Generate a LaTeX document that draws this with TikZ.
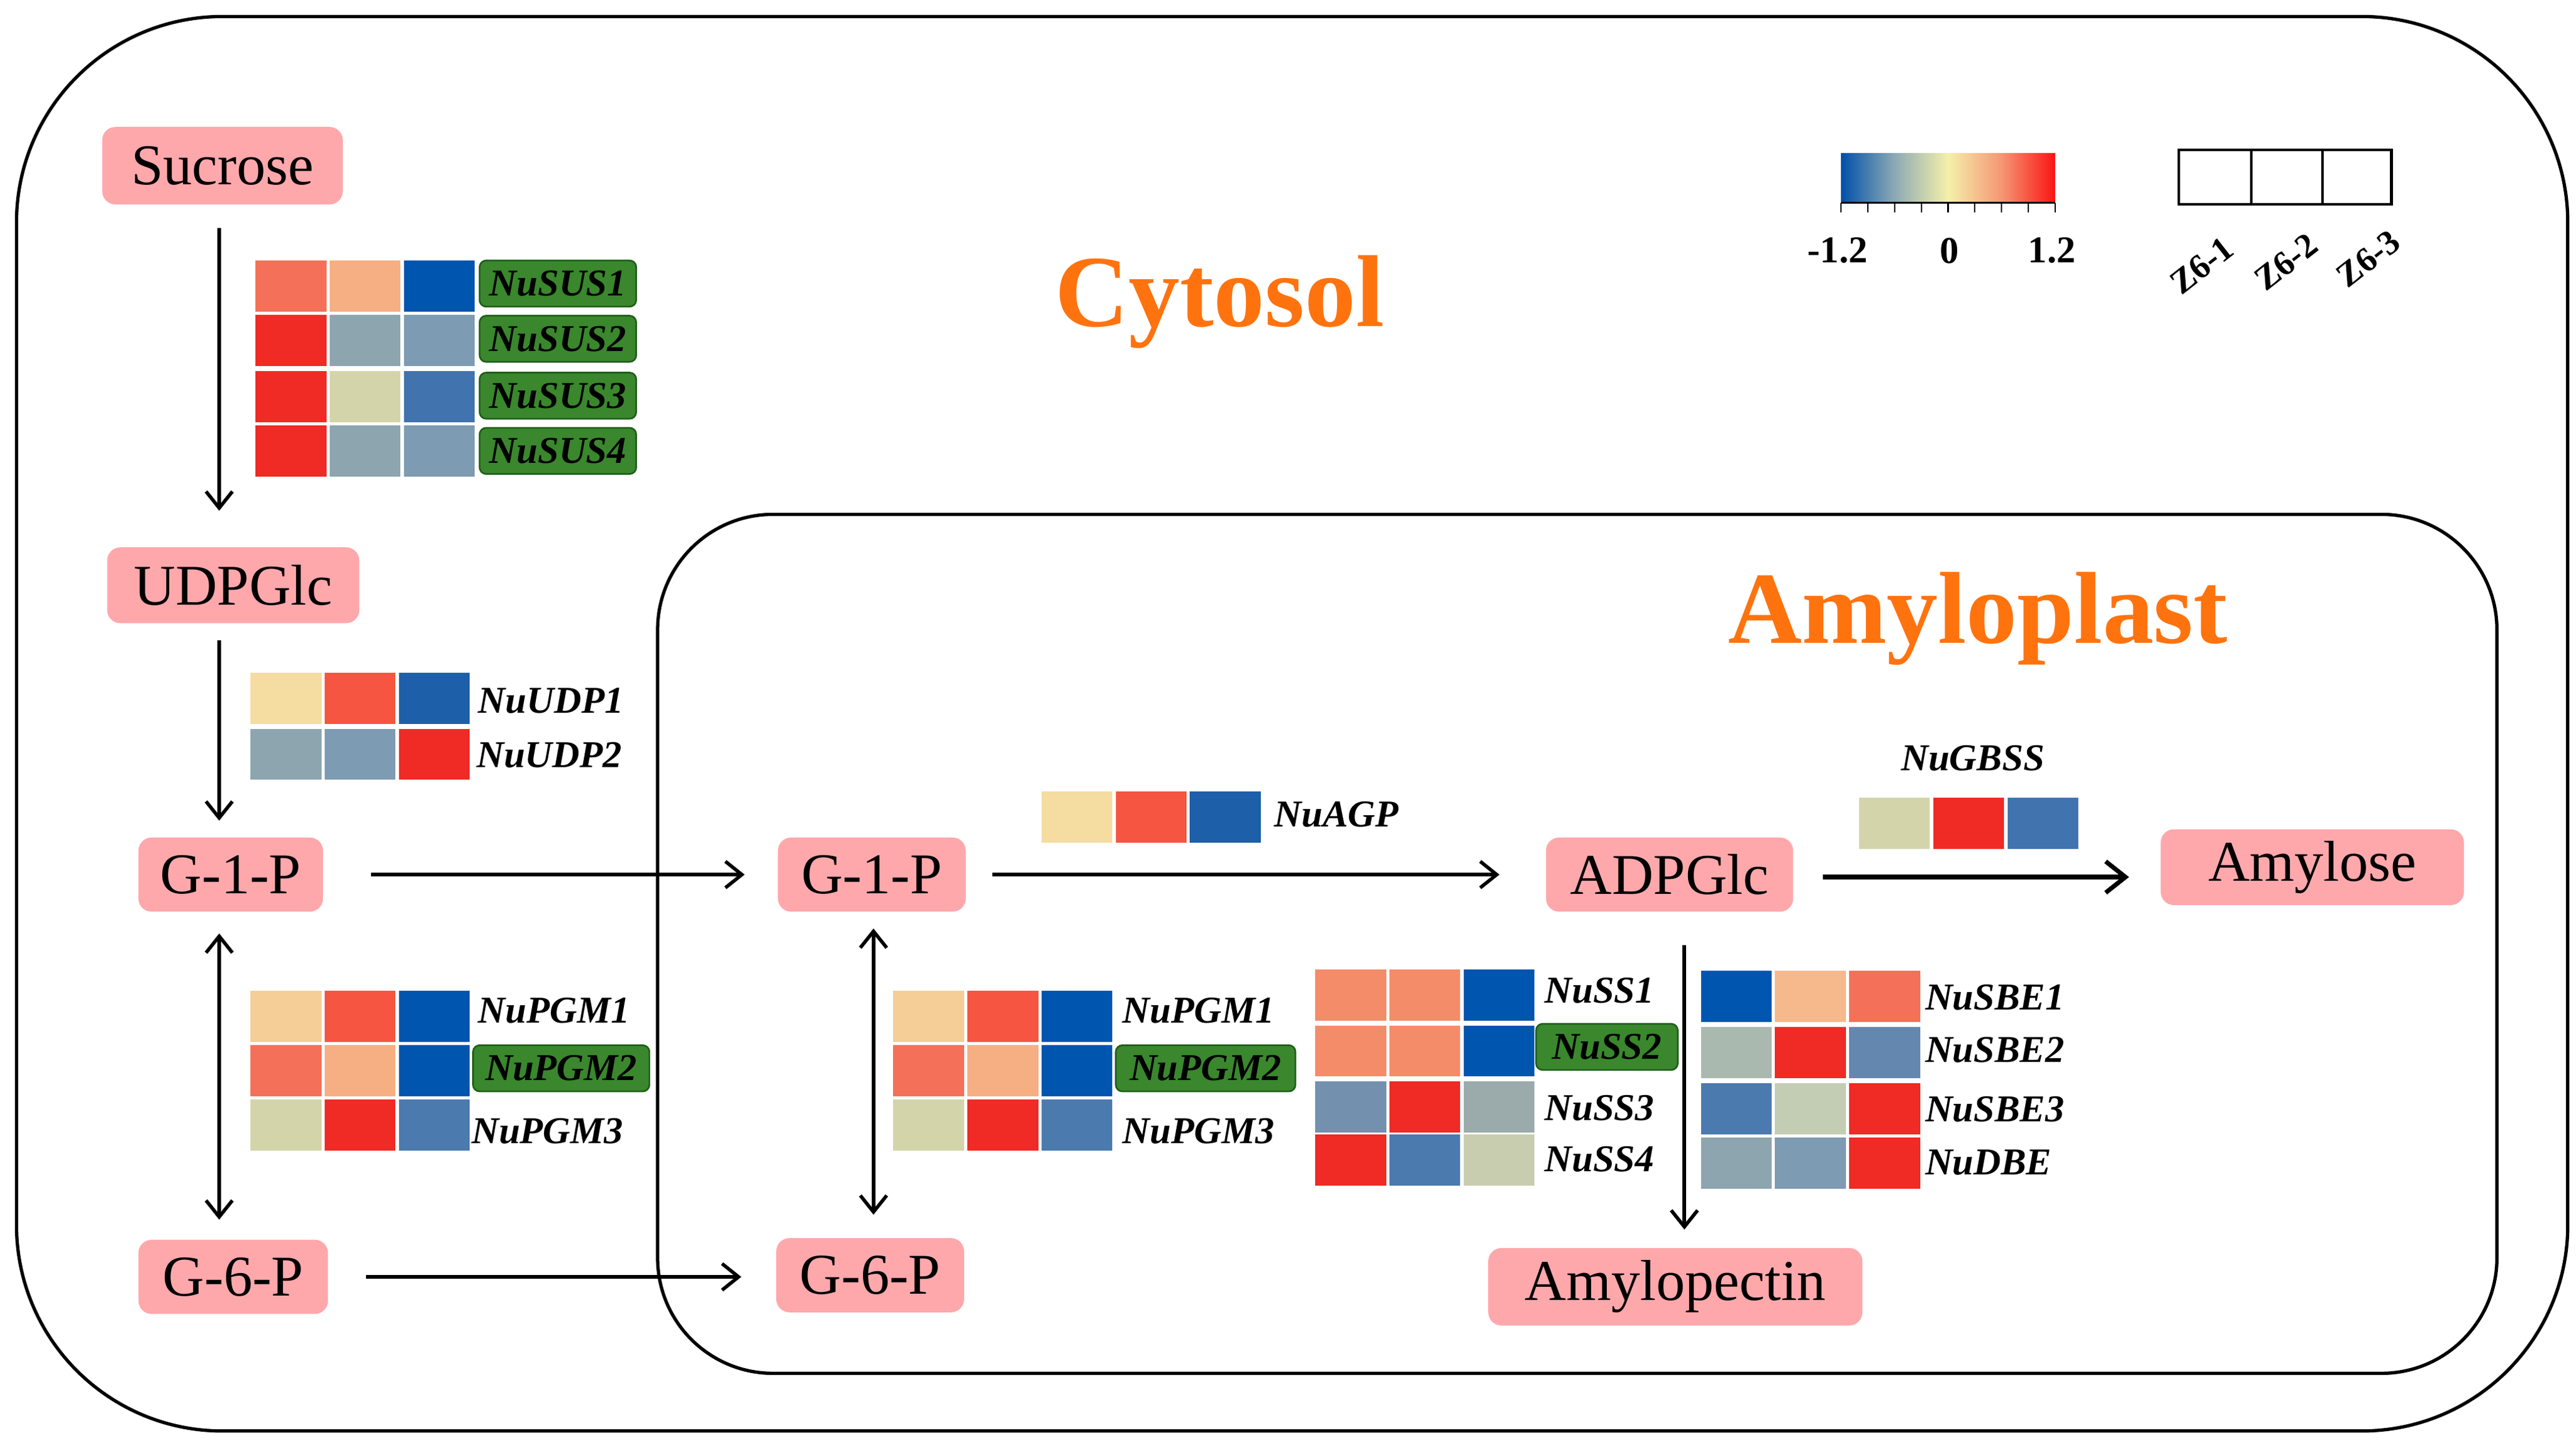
\documentclass[tikz,border=0pt]{standalone}
\usepackage{fontspec}
\setmainfont{Liberation Serif}
\usetikzlibrary{arrows.meta}
\definecolor{metpink}{RGB}{255,168,172}
\definecolor{gbgreen}{RGB}{58,135,45}
\definecolor{gbdark}{RGB}{30,95,25}
\definecolor{orng}{RGB}{255,115,15}
% heatmap colours
\definecolor{cBlue}{RGB}{0,85,175}
\definecolor{cBlueB}{RGB}{30,95,170}
\definecolor{cBlueC}{RGB}{65,115,175}
\definecolor{cBlueD}{RGB}{75,122,175}
\definecolor{cBlueE}{RGB}{100,135,175}
\definecolor{cGrayA}{RGB}{140,165,175}
\definecolor{cGrayB}{RGB}{125,155,178}
\definecolor{cGrayC}{RGB}{115,145,175}
\definecolor{cGrayD}{RGB}{155,170,170}
\definecolor{cGrayE}{RGB}{170,185,175}
\definecolor{cBeige}{RGB}{212,212,170}
\definecolor{cBeigeB}{RGB}{200,205,175}
\definecolor{cBeigeC}{RGB}{195,205,180}
\definecolor{cPale}{RGB}{245,220,160}
\definecolor{cPaleO}{RGB}{245,205,150}
\definecolor{cLtOr}{RGB}{245,175,130}
\definecolor{cLtOrB}{RGB}{245,185,140}
\definecolor{cSalm}{RGB}{245,112,88}
\definecolor{cSalmB}{RGB}{245,140,105}
\definecolor{cRedO}{RGB}{245,85,65}
\definecolor{cRed}{RGB}{240,42,36}
\definecolor{hblue}{RGB}{0,80,170}
\definecolor{hgray}{RGB}{140,170,180}
\definecolor{hyel}{RGB}{245,240,170}
\definecolor{hsal}{RGB}{245,150,115}
\definecolor{hred}{RGB}{250,20,20}
\pgfdeclarehorizontalshading{heat}{100bp}{color(0bp)=(hblue); color(25bp)=(hblue); color(37.5bp)=(hgray); color(50bp)=(hyel); color(62.5bp)=(hsal); color(75bp)=(hred); color(100bp)=(hred)}
\newcommand\hmrow[5]{%
  \begin{scope}[shift={(#1,#2)}]
    \fill[#3] (0,0) rectangle (43,31);
    \fill[#4] (45,0) rectangle (88,31);
    \fill[#5] (90,0) rectangle (133,31);
  \end{scope}}
\begin{document}
\begin{tikzpicture}[x=1pt,y=-1pt,
  met/.style={rectangle, rounded corners=8pt, fill=metpink, font=\fontsize{35}{40}\selectfont, inner sep=0pt},
  gene/.style={font=\fontsize{23}{26}\selectfont\bfseries\itshape, inner sep=0pt, anchor=west},
  genebox/.style={font=\fontsize{23}{26}\selectfont\bfseries\itshape, fill=gbgreen, draw=gbdark, line width=1pt, rounded corners=4pt, inner sep=0pt, minimum height=28pt},
  tip/.tip={Straight Barb[length=10pt,width=16pt]},
  bigtip/.tip={Straight Barb[length=12pt,width=19pt]},
  arr/.style={line width=2.1pt, -tip},
  darr/.style={line width=2.1pt, tip-tip},
  comp/.style={line width=2pt},
  lbl/.style={font=\fontsize{23}{25}\selectfont\bfseries, inner sep=0pt},
  zlbl/.style={font=\fontsize{21}{23}\selectfont\bfseries, rotate=38, inner sep=0pt}]
\useasboundingbox (0,0) rectangle (1563,878.3);
% compartments
\draw[comp, rounded corners=125pt] (10,10) rectangle (1558,868);
\draw[comp, rounded corners=70pt] (399,312) rectangle (1515,833);
\node[text=orng, font=\fontsize{62}{70}\selectfont\bfseries, anchor=base, inner sep=0pt] (cyto) at (740,198) {Cytosol};
\node[text=orng, font=\fontsize{62}{70}\selectfont\bfseries, anchor=base, inner sep=0pt] (amylo) at (1200,390) {Amyloplast};
% legend
\shade[shading=heat] (1117,93) rectangle (1247,123);
\draw[line width=1pt] (1117,123) -- (1247,123);
\foreach \i in {0,...,8}{
  \pgfmathsetmacro\tx{1117+\i*16.25}
  \draw[line width=0.8pt] (\tx,123) -- (\tx,129);
}
\node[lbl] (lm) at (1115,152) {-1.2};
\node[lbl] (l0) at (1183,152) {0};
\node[lbl] (lp) at (1245,152) {1.2};
\draw[line width=1.6pt] (1322,91) rectangle (1451,124);
\draw[line width=1.6pt] (1366,91) -- (1366,124);
\draw[line width=1.6pt] (1409,91) -- (1409,124);
\node[zlbl] (z1) at (1336,161) {Z6-1};
\node[zlbl] (z2) at (1387,159) {Z6-2};
\node[zlbl] (z3) at (1437,157) {Z6-3};
% metabolites
\node[met, minimum width=146pt, minimum height=47pt] (suc) at (135,100.5) {Sucrose};
\node[met, minimum width=153pt, minimum height=46pt] (udp) at (141.5,355) {UDPGlc};
\node[met, minimum width=112pt, minimum height=45pt] (g1pL) at (140,530.5) {G-1-P};
\node[met, minimum width=115pt, minimum height=45pt] (g6pL) at (141.5,774.5) {G-6-P};
\node[met, minimum width=114pt, minimum height=45pt] (g1pI) at (529,530.5) {G-1-P};
\node[met, minimum width=114pt, minimum height=45pt] (g6pI) at (528,773.5) {G-6-P};
\node[met, minimum width=150pt, minimum height=45pt] (adp) at (1013,530.5) {ADPGlc};
\node[met, minimum width=184pt, minimum height=46pt] (amy) at (1403,526) {Amylose};
\node[met, minimum width=227pt, minimum height=47pt] (amp) at (1016.5,780.5) {Amylopectin};
% arrows
\coordinate (ax) at (133,0);
\coordinate (bx) at (530,0);
\coordinate (cx) at (1022,0);
\draw[arr, shorten <=14pt, shorten >=22pt] (suc.south -| ax) -- (udp.north -| ax);
\draw[arr, shorten <=10pt, shorten >=10pt] (udp.south -| ax) -- (g1pL.north -| ax);
\draw[darr, shorten <=13pt, shorten >=12pt] (g1pL.south -| ax) -- (g6pL.north -| ax);
\draw[arr, shorten <=29pt, shorten >=20pt] (g1pL.east) -- (g1pL.east -| g1pI.west);
\draw[arr, shorten <=23pt, shorten >=21pt] (g6pL.east) -- (g6pL.east -| g6pI.west);
\draw[darr, shorten <=10pt, shorten >=14pt] (g1pI.south -| bx) -- (g6pI.north -| bx);
\draw[arr, shorten <=16pt, shorten >=28pt] (g1pI.east) -- (g1pI.east -| adp.west);
\draw[line width=2.7pt, -bigtip, shorten <=18pt, shorten >=19pt] ([yshift=-1.5pt]adp.east) -- ([yshift=-1.5pt]adp.east -| amy.west);
\draw[arr, shorten <=20pt, shorten >=11pt] (adp.south -| cx) -- (amp.north -| cx);
% heatmaps
\hmrow{155}{158}{cSalm}{cLtOr}{cBlue}
\hmrow{155}{191}{cRed}{cGrayA}{cGrayB}
\hmrow{155}{225}{cRed}{cBeige}{cBlueC}
\hmrow{155}{258}{cRed}{cGrayA}{cGrayB}
\node[genebox, minimum width=95pt] (sus1) at (338.5,172) {NuSUS1};
\node[genebox, minimum width=95pt] (sus2) at (338.5,205.5) {NuSUS2};
\node[genebox, minimum width=95pt] (sus3) at (338.5,240) {NuSUS3};
\node[genebox, minimum width=95pt] (sus4) at (338.5,273.5) {NuSUS4};
\hmrow{152}{408}{cPale}{cRedO}{cBlueB}
\hmrow{152}{442}{cGrayA}{cGrayB}{cRed}
\node[gene] (udp1) at (290,425) {NuUDP1};
\node[gene] (udp2) at (289,458) {NuUDP2};
\hmrow{152}{601}{cPaleO}{cRedO}{cBlue}
\hmrow{152}{634}{cSalm}{cLtOr}{cBlue}
\hmrow{152}{667}{cBeige}{cRed}{cBlueD}
\node[gene] (pgm1L) at (290,613) {NuPGM1};
\node[genebox, minimum width=107pt] (pgm2L) at (340.5,648) {NuPGM2};
\node[gene] (pgm3L) at (286,686) {NuPGM3};
\hmrow{542}{601}{cPaleO}{cRedO}{cBlue}
\hmrow{542}{634}{cSalm}{cLtOr}{cBlue}
\hmrow{542}{667}{cBeige}{cRed}{cBlueD}
\node[gene] (pgm1I) at (681,613) {NuPGM1};
\node[genebox, minimum width=109pt] (pgm2I) at (731.5,648) {NuPGM2};
\node[gene] (pgm3I) at (681,686) {NuPGM3};
\hmrow{632}{480}{cPale}{cRedO}{cBlueB}
\node[gene] (agp) at (773,494) {NuAGP};
\hmrow{1128}{484}{cBeige}{cRed}{cBlueC}
\node[gene, anchor=center] (gbss) at (1197,460) {NuGBSS};
\hmrow{798}{588}{cSalmB}{cSalmB}{cBlue}
\hmrow{798}{622}{cSalmB}{cSalmB}{cBlue}
\hmrow{798}{656}{cGrayC}{cRed}{cGrayD}
\hmrow{798}{688}{cRed}{cBlueD}{cBeigeB}
\node[gene] (ss1) at (937,601) {NuSS1};
\node[genebox, minimum width=86pt] (ss2) at (975,635) {NuSS2};
\node[gene] (ss3) at (937,672) {NuSS3};
\node[gene] (ss4) at (937,703) {NuSS4};
\hmrow{1032}{589}{cBlue}{cLtOrB}{cSalm}
\hmrow{1032}{623}{cGrayE}{cRed}{cBlueE}
\hmrow{1032}{657}{cBlueD}{cBeigeC}{cRed}
\hmrow{1032}{690}{cGrayA}{cGrayB}{cRed}
\node[gene] (sbe1) at (1168,605) {NuSBE1};
\node[gene] (sbe2) at (1168,637) {NuSBE2};
\node[gene] (sbe3) at (1168,673) {NuSBE3};
\node[gene] (dbe) at (1168,705) {NuDBE};
\end{tikzpicture}
\end{document}
